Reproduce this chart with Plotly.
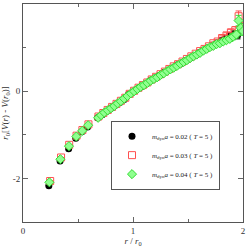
import plotly.graph_objects as go

# a = 0.02
r_02 = [0.235, 0.337, 0.415, 0.48, 0.535, 0.587, 0.677, 0.72, 0.76, 0.80, 0.84, 0.88, 0.92, 0.96,
        1.0, 1.04, 1.08, 1.12, 1.16, 1.2, 1.24, 1.28, 1.32, 1.36, 1.4, 1.44, 1.48, 1.52, 1.56,
        1.6, 1.64, 1.68, 1.72, 1.76, 1.8, 1.84, 1.88, 1.92, 1.95, 1.98]
v_02 = [-2.17, -1.60, -1.32, -1.08, -0.93, -0.82, -0.61, -0.54, -0.46, -0.39, -0.32, -0.26, -0.19, -0.07,
        -0.02, 0.05, 0.11, 0.17, 0.25, 0.30, 0.36, 0.43, 0.48, 0.53, 0.60, 0.64, 0.70, 0.76, 0.82,
        0.88, 0.94, 0.99, 1.05, 1.10, 1.16, 1.21, 1.27, 1.32, 1.28, 1.42]
e_02 = [0]*34 + [0.03, 0.04, 0.05, 0.06, 0.08, 0.08]

# a = 0.03
r_03 = [0.247, 0.346, 0.42, 0.487, 0.54, 0.595, 0.686, 0.73, 0.77, 0.81, 0.85, 0.89, 0.93, 0.97,
        1.01, 1.05, 1.09, 1.13, 1.17, 1.21, 1.25, 1.29, 1.33, 1.37, 1.41, 1.45, 1.49, 1.53, 1.57,
        1.61, 1.65, 1.69, 1.73, 1.77, 1.81, 1.85, 1.89, 1.93, 1.96, 1.99]
v_03 = [-2.06, -1.52, -1.23, -1.02, -0.89, -0.76, -0.58, -0.50, -0.43, -0.36, -0.29, -0.22, -0.15, -0.06,
        0.01, 0.08, 0.14, 0.20, 0.27, 0.33, 0.39, 0.45, 0.51, 0.57, 0.62, 0.68, 0.74, 0.80, 0.86,
        0.92, 0.97, 1.03, 1.10, 1.14, 1.22, 1.28, 1.35, 1.40, 1.72, 1.48]
e_03 = [0]*32 + [0.03, 0.04, 0.05, 0.06, 0.07, 0.08, 0.12, 0.1]

# a = 0.04
r_04 = [0.24, 0.34, 0.418, 0.485, 0.538, 0.592, 0.683, 0.71, 0.74, 0.77, 0.80, 0.83, 0.86, 0.89, 0.92,
        0.95, 0.98, 1.01, 1.04, 1.07, 1.10, 1.13, 1.16, 1.19, 1.22, 1.25, 1.28, 1.31, 1.34, 1.37,
        1.40, 1.43, 1.46, 1.49, 1.52, 1.55, 1.58, 1.61, 1.64, 1.67, 1.70, 1.73, 1.76, 1.79, 1.82,
        1.85, 1.88, 1.91, 1.94, 1.96, 1.98, 2.0]
v_04 = [-2.09, -1.56, -1.26, -1.04, -0.91, -0.78, -0.61, -0.55, -0.49, -0.44, -0.39, -0.34, -0.28, -0.23, -0.17,
        -0.11, -0.05, 0.0, 0.05, 0.10, 0.14, 0.19, 0.24, 0.28, 0.32, 0.37, 0.41, 0.46, 0.50, 0.54,
        0.58, 0.63, 0.67, 0.71, 0.76, 0.80, 0.84, 0.88, 0.93, 0.97, 1.01, 1.04, 1.08, 1.10, 1.14,
        1.17, 1.20, 1.25, 1.30, 1.62, 1.45, 1.38]
e_04 = [0]*40 + [0.03, 0.03, 0.04, 0.04, 0.05, 0.05, 0.06, 0.07, 0.08, 0.12, 0.1, 0.1]

x_ticks = [0, 1, 2]
y_ticks = [-2, 0, 2]

font = "Liberation Serif, Times New Roman, serif"

fig = go.Figure()
fig.add_trace(go.Scatter(
    x=r_02, y=v_02, mode="markers",
    name="<i>m</i><sub>dyn</sub><i>a</i> = 0.02 ( <i>T</i> = 5 )",
    marker=dict(symbol="circle", size=7, color="black"),
    error_y=dict(type="data", array=e_02, color="black", thickness=1, width=3),
))
fig.add_trace(go.Scatter(
    x=r_03, y=v_03, mode="markers",
    name="<i>m</i><sub>dyn</sub><i>a</i> = 0.03 ( <i>T</i> = 5 )",
    marker=dict(symbol="square-open", size=7, color="#ff5050", line=dict(width=1)),
    error_y=dict(type="data", array=e_03, color="#ff5050", thickness=1, width=3),
))
fig.add_trace(go.Scatter(
    x=r_04, y=v_04, mode="markers",
    name="<i>m</i><sub>dyn</sub><i>a</i> = 0.04 ( <i>T</i> = 5 )",
    marker=dict(symbol="diamond", size=7, color="#90ff90", line=dict(color="#33dd33", width=1)),
    error_y=dict(type="data", array=e_04, color="#33dd33", thickness=1, width=3),
))

fig.update_layout(
    width=248, height=247,
    margin=dict(l=23, r=3, t=3, b=23),
    paper_bgcolor="white", plot_bgcolor="white",
    font=dict(family=font, size=9, color="#333"),
    showlegend=True,
    legend=dict(
        x=0.40, y=0.465, xanchor="left", yanchor="top",
        bordercolor="#555", borderwidth=1, bgcolor="white",
        font=dict(size=7, color="#222"), traceorder="normal",
        itemwidth=30, tracegroupgap=0,
    ),
    xaxis=dict(
        range=[0, 2], tickvals=x_ticks, ticktext=[str(v) for v in x_ticks],
        ticks="inside", ticklen=5, tickcolor="#666", mirror="allticks",
        showline=True, linecolor="#555", linewidth=1, showgrid=False, zeroline=False,
        minor=dict(dtick=0.5, ticks="inside", ticklen=3, tickcolor="#666"),
        title=dict(text="<i>r</i> / <i>r</i><sub>0</sub>", standoff=2, font=dict(size=9, color="#333")),
        tickfont=dict(size=9, color="#333"),
    ),
    yaxis=dict(
        range=[-3, 2], tickvals=y_ticks, ticktext=[str(v) for v in y_ticks],
        ticks="inside", ticklen=5, tickcolor="#666", mirror="allticks",
        showline=True, linecolor="#555", linewidth=1, showgrid=False, zeroline=False,
        minor=dict(dtick=1, ticks="inside", ticklen=3, tickcolor="#666"),
        title=dict(text="<i>r</i><sub>0</sub>[<i>V</i>(<i>r</i>) - <i>V</i>(<i>r</i><sub>0</sub>)]",
                   standoff=2, font=dict(size=9, color="#333")),
        tickfont=dict(size=9, color="#333"),
    ),
)

fig.write_html("out.html", config={"displayModeBar": False},
               post_script="document.body.style.margin='0px';document.body.style.overflow='hidden';")
